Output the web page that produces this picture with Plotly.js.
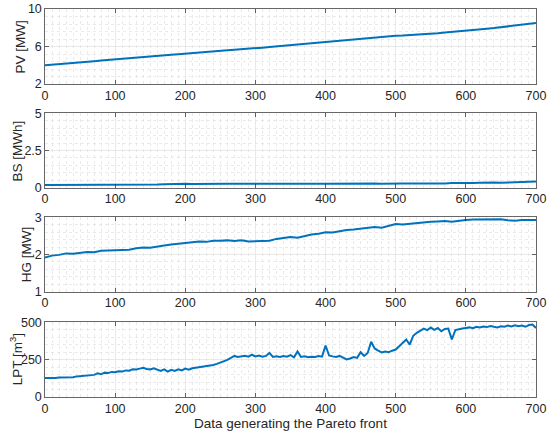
<!DOCTYPE html>
<html>
<head>
<meta charset="utf-8">
<script src="https://cdn.plot.ly/plotly-3.0.1.min.js"></script>
<style>html,body{margin:0;padding:0;background:#fff}#chart{width:550px;height:435px}</style>
</head>
<body>
<div id="chart"></div>
<script>
// x sampling of each series (index of Pareto-front solution)
const stepCoarse = 10;
const stepFine = 5;

const pvValues = [4.00,4.05,4.12,4.17,4.24,4.30,4.37,4.43,4.50,4.57,4.63,
  4.68,4.75,4.80,4.88,4.95,5.00,5.06,5.13,5.18,5.25,
  5.30,5.36,5.43,5.50,5.55,5.60,5.66,5.70,5.76,5.82,
  5.88,5.95,6.02,6.08,6.15,6.22,6.28,6.34,6.40,6.45,
  6.52,6.60,6.68,6.77,6.85,6.90,6.97,7.05,7.10,7.15,
  7.18,7.22,7.25,7.30,7.35,7.42,7.50,7.58,7.63,7.70,
  7.76,7.82,7.90,7.97,8.05,8.15,8.22,8.30,8.38,8.50];

const bsValues = [0.19,0.19,0.18,0.19,0.19,0.18,0.19,0.20,0.19,0.19,0.20,
  0.20,0.20,0.23,0.22,0.23,0.22,0.24,0.26,0.25,0.26,
  0.25,0.26,0.26,0.27,0.26,0.27,0.26,0.27,0.27,0.26,
  0.27,0.27,0.26,0.27,0.26,0.27,0.27,0.26,0.27,0.26,
  0.27,0.27,0.28,0.27,0.27,0.28,0.28,0.27,0.29,0.28,
  0.28,0.29,0.28,0.29,0.29,0.30,0.29,0.31,0.30,0.30,
  0.32,0.34,0.36,0.35,0.33,0.36,0.38,0.37,0.40,0.42];

const hgValues = [1.92,1.97,1.99,2.03,2.02,2.05,2.07,2.06,2.10,2.11,2.12,
  2.14,2.13,2.17,2.19,2.18,2.22,2.24,2.27,2.29,2.32,
  2.33,2.35,2.34,2.37,2.37,2.38,2.36,2.38,2.35,2.36,
  2.38,2.37,2.42,2.44,2.47,2.45,2.50,2.54,2.56,2.60,
  2.59,2.63,2.66,2.67,2.70,2.72,2.74,2.72,2.78,2.82,
  2.81,2.83,2.85,2.87,2.88,2.89,2.90,2.88,2.91,2.93,
  2.94,2.94,2.95,2.96,2.95,2.92,2.91,2.93,2.94,2.93];

const lptValues = [128,127,129,128,130,131,129,130,133,138,141,
  143,146,150,148,158,152,163,160,168,166,
  172,170,178,176,186,184,190,196,188,185,
  192,183,175,185,170,182,175,185,178,190,
  183,192,195,198,200,206,210,214,222,230,
  238,248,262,275,268,272,276,270,283,272,
  277,270,275,295,268,272,268,275,270,280,
  266,305,268,272,266,270,268,275,270,345,
  278,272,268,275,262,252,258,268,262,300,
  275,295,370,325,310,298,305,300,310,318,
  340,365,385,350,410,430,445,458,448,465,
  450,462,440,455,458,385,448,455,458,462,
  466,460,470,465,472,468,475,470,466,474,
  470,478,472,480,474,478,470,482,485,462];

const yTitles = ['PV [MW]','BS [MWh]','HG [MW]','LPT [m<sup>3</sup>]'];
const xTitle = 'Data generating the Pareto front';

function xs(vals, step){ return vals.map((_, i) => i * step); }

const lineStyle = {color:'#0072BD', width:2};
const traces = [
  {x: xs(pvValues, stepCoarse), y: pvValues, xaxis:'x', yaxis:'y'},
  {x: xs(bsValues, stepCoarse), y: bsValues, xaxis:'x2', yaxis:'y2'},
  {x: xs(hgValues, stepCoarse), y: hgValues, xaxis:'x3', yaxis:'y3'},
  {x: xs(lptValues, stepFine), y: lptValues, xaxis:'x4', yaxis:'y4'}
].map(t => Object.assign(t, {type:'scatter', mode:'lines', line:lineStyle, hoverinfo:'skip'}));

const axColor = '#262626';
const fam = '"Liberation Sans", Arial, sans-serif';
const font = {family:fam, size:12, color:axColor};

function xAxis(anchor){
  return {
    anchor: anchor, domain:[0,1], range:[0,700], dtick:100, tick0:0,
    showline:true, linecolor:axColor, linewidth:0.7, mirror:'ticks',
    ticks:'inside', ticklen:4, tickcolor:axColor, tickwidth:0.7,
    showgrid:true, gridcolor:'#e0e0e0', gridwidth:0.7, zeroline:false,
    minor:{dtick:10, tick0:0, showgrid:true, gridcolor:'#d6d6d6', griddash:'dot', gridwidth:0.5, ticks:''},
    tickfont:{family:fam, size:12.5, color:axColor}
  };
}
function yAxis(anchor, domain, range, dtick, tick0, minorDtick){
  return {
    anchor: anchor, domain: domain, range: range, dtick: dtick, tick0: tick0,
    showline:true, linecolor:axColor, linewidth:0.7, mirror:'ticks',
    ticks:'inside', ticklen:4, tickcolor:axColor, tickwidth:0.7,
    showgrid:true, gridcolor:'#e0e0e0', gridwidth:0.7, zeroline:false,
    minor:{dtick:minorDtick, tick0:tick0, showgrid:true, gridcolor:'#d6d6d6', griddash:'dot', gridwidth:0.5, ticks:''},
    tickfont:{family:fam, size:12.5, color:axColor}
  };
}

// panel domains (paper fraction) and horizontal title offsets
const domains = [[0.8067,1.0],[0.5394,0.7312],[0.2714,0.4631],[0,0.1925]];
const titleX = [-0.049,-0.055,-0.037,-0.060];
const annotations = yTitles.map((t, i) => ({
  text: t, xref:'paper', yref:'paper', x:titleX[i], y:(domains[i][0]+domains[i][1])/2,
  xanchor:'center', yanchor:'middle', textangle:-90, showarrow:false,
  font:{family:fam, size:13.5, color:axColor}
}));
annotations.push({
  text: xTitle, xref:'paper', yref:'paper', x:0.5, y:-0.068,
  xanchor:'center', yanchor:'middle', showarrow:false,
  font:{family:fam, size:13.5, color:axColor}
});

const layout = {
  width:550, height:435,
  margin:{l:45, r:14, t:9, b:38},
  paper_bgcolor:'#ffffff', plot_bgcolor:'#ffffff',
  showlegend:false, font:font,
  xaxis: xAxis('y'),
  xaxis2: xAxis('y2'),
  xaxis3: xAxis('y3'),
  xaxis4: xAxis('y4'),
  yaxis: yAxis('x', domains[0], [2,10], 4, 2, 0.8),
  yaxis2: yAxis('x2', domains[1], [0,5], 2.5, 0, 0.5),
  yaxis3: yAxis('x3', domains[2], [1,3], 1, 1, 0.2),
  yaxis4: yAxis('x4', domains[3], [0,500], 250, 0, 50),
  annotations: annotations
};

Plotly.newPlot('chart', traces, layout, {staticPlot:true, displayModeBar:false});
</script>
</body>
</html>
